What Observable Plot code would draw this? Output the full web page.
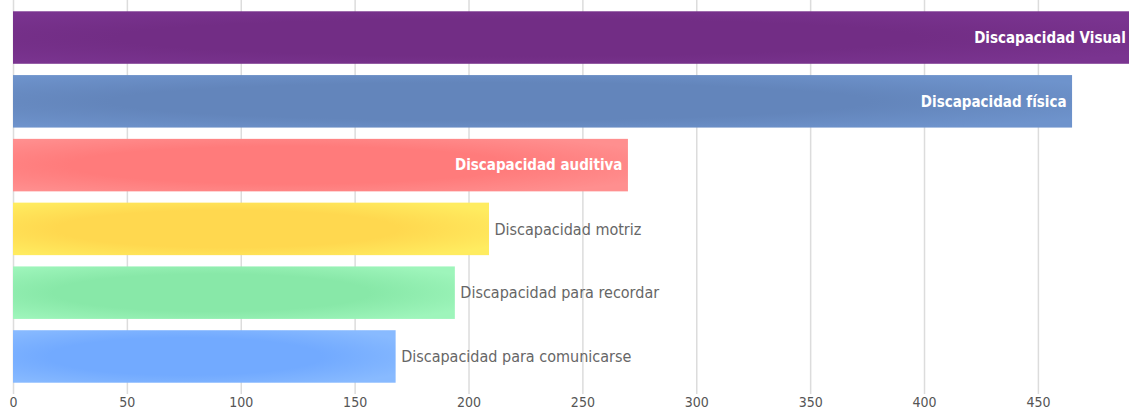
<!DOCTYPE html>
<html><head><meta charset="utf-8">
<script src="https://cdn.jsdelivr.net/npm/d3@7"></script>
<script src="https://cdn.jsdelivr.net/npm/@observablehq/plot@0.6"></script>
<style>
html,body{margin:0;padding:0;background:#fff;}
#chart svg{display:block;font-family:"DejaVu Sans Condensed","Liberation Sans Narrow",sans-serif;}
</style></head>
<body><div id="chart"></div>
<script>
const categories = ["Discapacidad Visual","Discapacidad física","Discapacidad auditiva","Discapacidad motriz","Discapacidad para recordar","Discapacidad para comunicarse"];
const values = [491, 465, 270, 209, 194, 168];
const baseColors = ["#722d85","#6385bb","#ff7b7b","#ffd84f","#88e8a8","#72aaff"];
const edgeColors = ["#7a3490","#6e93cc","#ff8f8f","#ffec60","#9ef5bb","#88baff"];
const insideLabel = [true, true, true, false, false, false];
const xTicks = [0,50,100,150,200,250,300,350,400,450];

const data = categories.map((c,i)=>({cat:c, v:values[i], grad:`url(#g${i})`, inside:insideLabel[i]}));

const chart = Plot.plot({
  width: 1129, height: 410,
  marginLeft: 13, marginRight: 0, marginTop: 0, marginBottom: 16,
  x: {domain:[0,490], ticks: xTicks, tickSize:0, tickPadding:3, label:null, grid:false},
  y: {domain: categories, padding:0.177, round:false, axis:null},
  color: {type:"identity"},
  style: {fontSize:"14px", color:"#555"},
  marks: [
    Plot.ruleX(xTicks, {stroke:"#dcdcdc", strokeWidth:1.5}),
    Plot.barX(data, {x:"v", y:"cat", fill:"grad", clip:true}),
    Plot.text(data.filter(d=>d.inside), {x:"v", y:"cat", text:"cat", textAnchor:"end", dx:-6, fill:"white", fontWeight:"bold", fontSize:15}),
    Plot.text(data.filter(d=>!d.inside), {x:"v", y:"cat", text:"cat", textAnchor:"start", dx:5, fill:"#666", fontSize:16})
  ]
});

const svgNS = "http://www.w3.org/2000/svg";
const defs = document.createElementNS(svgNS,"defs");
baseColors.forEach((b,i)=>{
  const g = document.createElementNS(svgNS,"radialGradient");
  g.setAttribute("id",`g${i}`);
  g.setAttribute("cx","0.45"); g.setAttribute("cy","0.5"); g.setAttribute("r","0.65");
  [["0%",b],["55%",b],["100%",edgeColors[i]]].forEach(([o,c])=>{
    const s=document.createElementNS(svgNS,"stop");
    s.setAttribute("offset",o); s.setAttribute("stop-color",c);
    g.appendChild(s);
  });
  defs.appendChild(g);
});
chart.insertBefore(defs, chart.firstChild);
document.getElementById("chart").appendChild(chart);
</script></body></html>
